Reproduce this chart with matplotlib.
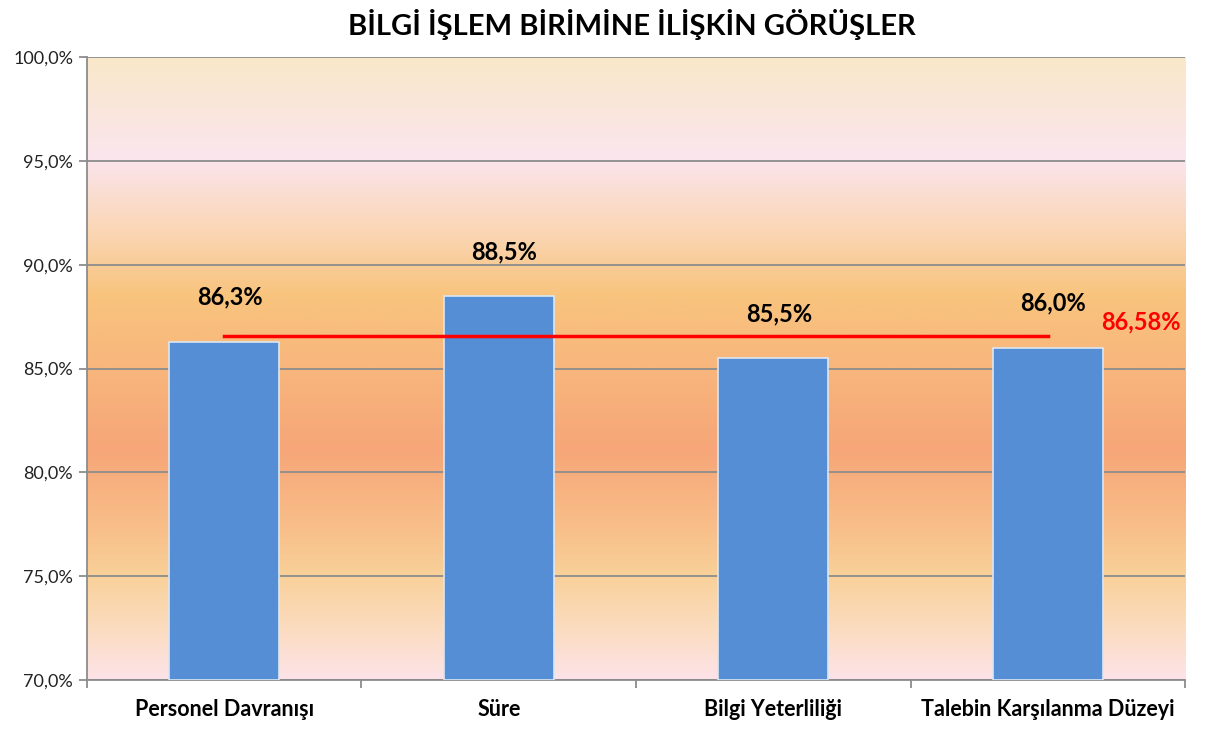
import matplotlib
matplotlib.use('Agg')
import matplotlib.pyplot as plt
import numpy as np
from matplotlib.colors import LinearSegmentedColormap

categories = ['Personel Davranışı', 'Süre', 'Bilgi Yeterliliği', 'Talebin Karşılanma Düzeyi']
values = [86.3, 88.5, 85.5, 86.0]
value_labels = ['86,3%', '88,5%', '85,5%', '86,0%']
average = 86.58
average_label = '86,58%'
yticks = [70, 75, 80, 85, 90, 95, 100]

plt.rcParams['font.family'] = ['Lato', 'DejaVu Sans']

fig = plt.figure(figsize=(12.08, 7.33), dpi=100)
ax = fig.add_axes([0.072, 0.0723, 0.909, 0.8497])

# background gradient, bottom -> top
bg = LinearSegmentedColormap.from_list('bg', [
    (0.00, '#fde3e8'),
    (0.08, '#fbdcc0'),
    (0.17, '#f9d098'),
    (0.25, '#f8bd88'),
    (0.37, '#f6a678'),
    (0.50, '#f8b67c'),
    (0.62, '#f8c47e'),
    (0.72, '#fad6b4'),
    (0.84, '#fbe5ee'),
    (1.00, '#f9e8c9'),
])
grad = np.linspace(0, 1, 256).reshape(-1, 1)
ax.imshow(grad, cmap=bg, aspect='auto', origin='lower',
          extent=[-0.5, 3.5, 70, 100], zorder=0)

x = np.arange(len(categories))
ax.bar(x, [v - 70 for v in values], bottom=70, width=0.4, color='#558ed5',
       edgecolor='#dce6f2', linewidth=1.2, zorder=3)

for xi, v, lab in zip(x, values, value_labels):
    ax.annotate(lab, (xi, v), xytext=(4, 32), textcoords='offset points',
                ha='center', va='center', fontsize=17, fontweight='bold',
                color='black', zorder=5)

ax.plot([x[0], x[-1]], [average, average], color='#ff0000', linewidth=2.5, zorder=4)
ax.text(3.34, 87.25, average_label, ha='center', va='center', fontsize=17,
        fontweight='bold', color='#ff0000', zorder=5)

ax.set_xlim(-0.5, 3.5)
ax.set_ylim(70, 100)
ax.set_yticks(yticks)
ax.set_yticklabels(['{:.1f}%'.format(t).replace('.', ',') for t in yticks],
                   fontsize=13, color='#222222')
ax.yaxis.grid(True, color='#8c8c8c', linewidth=1.3, zorder=1)
ax.set_axisbelow(False)
ax.tick_params(axis='y', length=6, width=1.3, color='#8c8c8c', pad=4)

ax.set_xticks(x)
ax.set_xticklabels(categories, fontsize=15.5, fontweight='bold')
ax.set_xticks(np.arange(-0.5, 4.0, 1.0), minor=True)
ax.tick_params(axis='x', which='major', length=0, pad=14)
ax.tick_params(axis='x', which='minor', length=6, width=1.3, color='#8c8c8c')

for s in ['top', 'right']:
    ax.spines[s].set_visible(False)
for s in ['left', 'bottom']:
    ax.spines[s].set_color('#8c8c8c')
    ax.spines[s].set_linewidth(1.3)

fig.suptitle('BİLGİ İŞLEM BİRİMİNE İLİŞKİN GÖRÜŞLER', x=0.523, y=0.988,
             fontsize=21, fontweight='bold')

fig.savefig('out.png', dpi=100)
